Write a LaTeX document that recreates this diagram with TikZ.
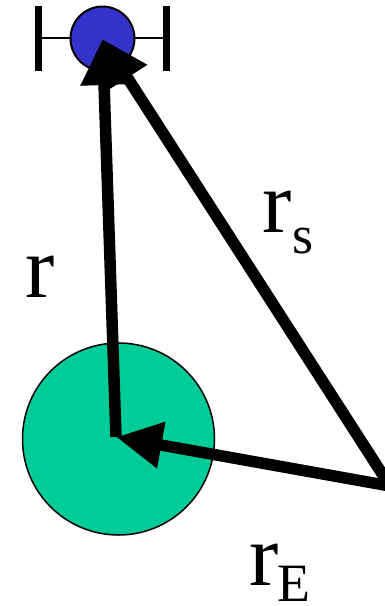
\documentclass[tikz,border=0pt]{standalone}
\usepackage{fontspec}
\setmainfont{Liberation Serif}
\usetikzlibrary{arrows.meta}
\definecolor{satblue}{RGB}{51,51,204}
\definecolor{earthgreen}{RGB}{0,204,153}
\tikzset{
  vec/.style={line width=11.5pt, -{Triangle[length=46pt,width=44pt]}, shorten >=0pt},
  bigtxt/.style={font=\fontsize{88}{100}\selectfont, anchor=base west, inner sep=0pt},
  subtxt/.style={font=\fontsize{54}{60}\selectfont, anchor=base west, inner sep=0pt},
  bar/.style={line width=7pt},
}
\begin{document}
\begin{tikzpicture}[x=1pt,y=-1pt]
\useasboundingbox (0,0) rectangle (385,606);
% earth
\node[circle, draw=black, line width=1.5pt, fill=earthgreen, minimum size=192pt, inner sep=0pt] (earth) at (118.5,439) {};
\coordinate (E) at (116,437);
% satellite bars
\coordinate (bl1) at (38.5,6);
\coordinate (bl2) at (38.5,71);
\coordinate (br1) at (166.5,6);
\coordinate (br2) at (166.5,71);
\draw[bar] (bl1) -- (bl2);
\draw[bar] (br1) -- (br2);
\draw[line width=2pt] (38.5,38) coordinate (hl) -- (166.5,38) coordinate (hr);
\node[circle, draw=black, line width=2pt, fill=satblue, minimum size=64pt, inner sep=0pt] (sat) at (102.5,38.5) {};
\coordinate (S) at (102.5,39);
\coordinate (V) at (390,486);
% vectors
\draw[vec] (V) -- (S);
\draw[vec] (V) -- (E);
\draw[vec] (E) -- (S);
% labels
\node[bigtxt] (lr) at (25,297) {r};
\node[bigtxt] (lrs) at (262,232) {r};
\node[subtxt] (lrs2) at (292,253) {s};
\node[bigtxt] (lre) at (249,585) {r};
\node[subtxt] (lre2) at (277,601) {E};
\end{tikzpicture}
\end{document}
